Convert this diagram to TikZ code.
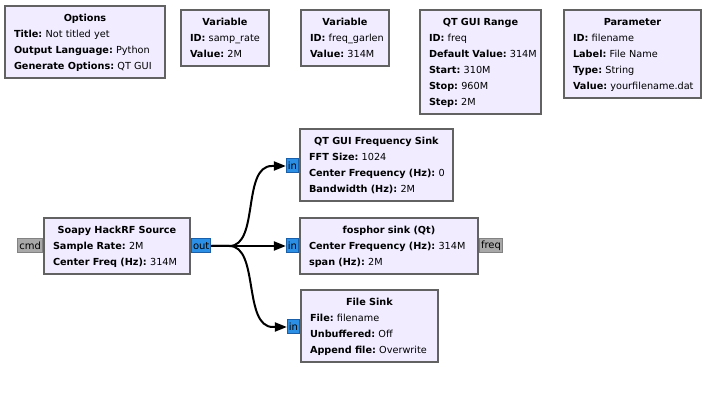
\documentclass[tikz,border=0pt]{standalone}
\usepackage{fontspec}
\setmainfont{DejaVu Sans}
\usetikzlibrary{arrows.meta,calc}
\definecolor{blkfill}{HTML}{F1ECFF}
\definecolor{blkdraw}{HTML}{626262}
\definecolor{portfill}{HTML}{2B8FE6}
\definecolor{portdraw}{HTML}{1A5FA8}
\definecolor{msgfill}{HTML}{A8A8A8}
\definecolor{msgdraw}{HTML}{828282}
\newcommand\ttl[1]{\makebox[\linewidth]{\textbf{#1}}\strut\par}
\newcommand\kv[2]{\mbox{\textbf{#1:}\hspace{3.2pt}#2}\strut\par}
\tikzset{
  x=1pt,y=1pt,
  blk/.style={draw=blkdraw,fill=blkfill,line width=2pt,rectangle,anchor=north west,
    inner xsep=9pt,inner ysep=0pt,
    font={\fontsize{9.7}{16}\selectfont\parindent=0pt\raggedright}},
  dport/.style={draw=portdraw,fill=portfill,line width=1pt,inner xsep=1.5pt,inner ysep=0pt,
    minimum height=14pt,font={\fontsize{10}{16}\selectfont}},
  mport/.style={draw=msgdraw,fill=msgfill,line width=1pt,inner xsep=1.5pt,inner ysep=0pt,
    minimum height=14pt,font={\fontsize{10}{16}\selectfont}},
  conn/.style={draw=black,line width=2pt,-{Triangle[length=12pt,width=9pt]}}
}
\begin{document}
\begin{tikzpicture}
\useasboundingbox[fill=white] (0,0) rectangle (716,-401);

\node[blk,minimum width=160pt,minimum height=72pt,text width=142pt] (opt) at (4,-5)
  {\ttl{Options}\kv{Title}{Not titled yet}\kv{Output Language}{Python}\kv{Generate Options}{QT GUI}};
\node[blk,minimum width=88pt,minimum height=56pt,text width=70pt] (var1) at (180,-9)
  {\ttl{Variable}\kv{ID}{samp\_rate}\kv{Value}{2M}};
\node[blk,minimum width=88pt,minimum height=56pt,text width=70pt] (var2) at (300,-9)
  {\ttl{Variable}\kv{ID}{freq\_garlen}\kv{Value}{314M}};
\node[blk,minimum width=121pt,minimum height=104pt,text width=103pt] (rng) at (419,-9)
  {\ttl{QT GUI Range}\kv{ID}{freq}\kv{Default Value}{314M}\kv{Start}{310M}\kv{Stop}{960M}\kv{Step}{2M}};
\node[blk,minimum width=137pt,minimum height=88pt,text width=119pt] (par) at (563,-9)
  {\ttl{Parameter}\kv{ID}{filename}\kv{Label}{File Name}\kv{Type}{String}\kv{Value}{yourfilename.dat}};

\node[blk,minimum width=146pt,minimum height=56pt,text width=128pt] (src) at (43,-217)
  {\ttl{Soapy HackRF Source}\kv{Sample Rate}{2M}\kv{Center Freq (Hz)}{314M}};
\node[blk,minimum width=153pt,minimum height=72pt,text width=135pt] (qts) at (299,-128)
  {\ttl{QT GUI Frequency Sink}\kv{FFT Size}{1024}\kv{Center Frequency (Hz)}{0}\kv{Bandwidth (Hz)}{2M}};
\node[blk,minimum width=178pt,minimum height=56pt,text width=160pt] (fos) at (299,-217)
  {\ttl{fosphor sink (Qt)}\kv{Center Frequency (Hz)}{314M}\kv{span (Hz)}{2M}};
\node[blk,minimum width=137pt,minimum height=72pt,text width=119pt] (fil) at (300,-289)
  {\ttl{File Sink}\kv{File}{filename}\kv{Unbuffered}{Off}\kv{Append file}{Overwrite}};

\node[dport,anchor=west] (out) at (src.east) {out};
\node[mport,anchor=east] (cmd) at (src.west) {cmd};
\node[dport,anchor=east] (in1) at ($(qts.west)+(0,-1)$) {in};
\node[dport,anchor=east] (in2) at (fos.west) {in};
\node[mport,anchor=west] (frq) at (fos.east) {freq};
\node[dport,anchor=east] (in3) at ($(fil.west)+(0,-1)$) {in};

\draw[conn] (out.east) -- (in2.west);
\draw[conn] (out.east) -- ++(18,0) .. controls +(30,0) and +(-30,0) .. ($(in1.west)+(-14,0)$) -- (in1.west);
\draw[conn] (out.east) -- ++(18,0) .. controls +(30,0) and +(-30,0) .. ($(in3.west)+(-14,0)$) -- (in3.west);
\end{tikzpicture}
\end{document}
